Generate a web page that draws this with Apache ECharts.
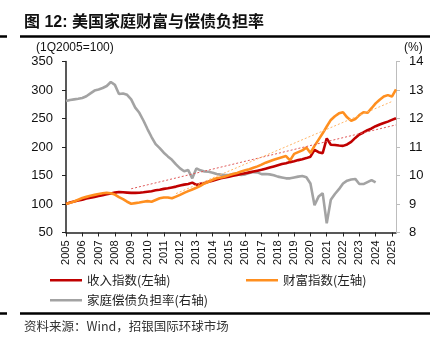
<!DOCTYPE html>
<html>
<head>
<meta charset="utf-8">
<script src="https://cdn.jsdelivr.net/npm/echarts@6/dist/echarts.min.js"></script>
<style>
  html, body { margin: 0; padding: 0; background: #fff; }
  #chart { width: 443px; height: 348px; }
</style>
</head>
<body>
<div id="chart"></div>
<script>
// Quarterly series, 2005Q1 .. 2025Q2
const firstYear = 2005;
const lastYear = 2025;
const lastQuarterOfLastYear = 2;

// Disposable income index (1Q2005 = 100), left axis
const incomeIndex = [
  100, 102.5, 104.5, 106, 107.5, 109.5, 111, 112.5, 114, 115.5,
  117, 118.5, 120, 121, 120.5, 120, 119.5, 119.5, 119.8, 120.5,
  121.5, 122.5, 124, 125, 126.5, 127.5, 129, 130.5, 132.5, 134,
  135, 137.5, 133.5, 135.5, 137, 139, 141, 143, 145, 146.5,
  148, 149.5, 151, 152.5, 154, 155.5, 157, 158.5, 160, 162,
  164, 166, 168, 170, 171.5, 173.5, 175, 177, 178.5, 180.5,
  183, 195, 191, 189, 215, 204, 203.5, 202.5, 202, 204.5,
  209, 216, 222, 225.5, 229.5, 232.5, 236.5, 239.5, 242, 244.5,
  247.5, 250.5
];

// Household net worth index (1Q2005 = 100), left axis
const wealthIndex = [
  100, 102, 104.5, 107.5, 110.5, 112.5, 114.5, 116, 117.5, 118.8,
  119.8, 119, 116.5, 112, 108.5, 104, 100.5, 101.5, 102.5, 104,
  105, 104, 107, 110, 111.5, 111.5, 110, 113, 116, 119.5,
  122.5, 125.5, 128.5, 132, 136, 139, 142.5, 145, 146.5, 148,
  150.5, 152.5, 154.5, 157, 159, 161, 163.5, 166, 169, 172.5,
  175, 177.5, 180, 182, 184, 176.5, 188, 191, 194, 199,
  189.5, 202, 213, 224, 236, 247.5, 254, 259, 261, 252,
  246, 249, 256, 261, 260, 268, 276.5, 283, 288.5, 291,
  288.5, 301
];

// Household debt service ratio (%), right axis, through 2024Q1
const debtServiceRatio = [
  12.61, 12.65, 12.67, 12.69, 12.72, 12.78, 12.88, 12.98, 13.02, 13.07,
  13.14, 13.28, 13.18, 12.86, 12.88, 12.83, 12.67, 12.38, 12.20, 11.93,
  11.63, 11.35, 11.10, 10.96, 10.80, 10.67, 10.55, 10.39, 10.25, 10.15,
  10.19, 9.90, 10.25, 10.18, 10.14, 10.13, 10.10, 10.05, 10.03, 10.02,
  10.02, 10.05, 10.06, 10.02, 10.04, 10.09, 10.12, 10.11, 10.05, 10.05,
  10.04, 10.01, 9.96, 9.93, 9.90, 9.90, 9.93, 9.96, 9.98, 9.94,
  9.72, 8.96, 9.26, 9.38, 8.32, 9.15, 9.35, 9.52, 9.72, 9.82,
  9.86, 9.88, 9.70, 9.70, 9.77, 9.84, 9.76
];

// Linear trend lines (start / end points)
const incomeTrend = [['2009Q1', 126.7], ['2025Q2', 238.8]];
const wealthTrend = [['2011Q4', 118.2], ['2025Q1', 279.8]];

// Axis scales
const leftAxisTicks = [50, 100, 150, 200, 250, 300, 350];
const rightAxisTicks = [8, 9, 10, 11, 12, 13, 14];

const seriesNames = ['收入指数(左轴)', '财富指数(左轴)', '家庭偿债负担率(右轴)'];
const colors = { income: '#C00000', wealth: '#FF8F1F', dsr: '#A3A3A3' };

// Quarter labels for the category axis
const quarters = [];
for (let y = firstYear; y <= lastYear; y++) {
  for (let q = 1; q <= 4; q++) {
    if (y === lastYear && q > lastQuarterOfLastYear) break;
    quarters.push(y + 'Q' + q);
  }
}

const latin = "'Liberation Sans', Arial, 'Noto Sans CJK SC', sans-serif";
const cjk = "'Noto Sans CJK SC', 'Liberation Sans', sans-serif";

const chart = echarts.init(document.getElementById('chart'), null, { renderer: 'canvas' });

const legendBase = {
  padding: 0,
  icon: 'rect',
  itemWidth: 32,
  itemHeight: 2.5,
  itemGap: 0,
  selectedMode: false,
  textStyle: { fontFamily: cjk, fontSize: 12.5, color: '#222', padding: [0, 0, 0, 0] }
};

chart.setOption({
  animation: false,
  backgroundColor: '#fff',
  grid: { left: 66, right: 47, top: 61.5, bottom: 115.5 },
  legend: [
    Object.assign({}, legendBase, { data: [seriesNames[0]], left: 50, top: 274 }),
    Object.assign({}, legendBase, { data: [seriesNames[1]], left: 246, top: 274 }),
    Object.assign({}, legendBase, { data: [seriesNames[2]], left: 50, top: 294 })
  ],
  xAxis: {
    type: 'category',
    data: quarters,
    boundaryGap: false,
    axisLine: { lineStyle: { color: '#222', width: 1.5 } },
    axisTick: { interval: 3, length: 4, lineStyle: { color: '#222', width: 1 } },
    axisLabel: {
      interval: 3,
      rotate: 90,
      margin: 8,
      fontSize: 11,
      fontFamily: "'Liberation Sans Narrow', 'Liberation Sans', Arial, sans-serif",
      color: '#111',
      formatter: v => v.slice(0, 4)
    },
    splitLine: { show: false }
  },
  yAxis: [
    {
      type: 'value',
      min: leftAxisTicks[0],
      max: leftAxisTicks[leftAxisTicks.length - 1],
      interval: leftAxisTicks[1] - leftAxisTicks[0],
      axisLine: { show: true, lineStyle: { color: '#222', width: 1.5 } },
      axisTick: { show: true, length: 4, lineStyle: { color: '#222' } },
      axisLabel: { margin: 13, fontSize: 13, fontFamily: latin, color: '#111' },
      splitLine: { show: false }
    },
    {
      type: 'value',
      position: 'right',
      min: rightAxisTicks[0],
      max: rightAxisTicks[rightAxisTicks.length - 1],
      interval: rightAxisTicks[1] - rightAxisTicks[0],
      axisLine: { show: true, lineStyle: { color: '#BDBDBD', width: 1 } },
      axisTick: { show: true, length: 4, lineStyle: { color: '#BDBDBD' } },
      axisLabel: { margin: 13, fontSize: 13, fontFamily: latin, color: '#111' },
      splitLine: { show: false }
    }
  ],
  series: [
    {
      name: seriesNames[0], type: 'line', yAxisIndex: 0, data: incomeIndex,
      symbol: 'none', lineStyle: { color: colors.income, width: 2.6 },
      itemStyle: { color: colors.income }, z: 3
    },
    {
      name: seriesNames[1], type: 'line', yAxisIndex: 0, data: wealthIndex,
      symbol: 'none', lineStyle: { color: colors.wealth, width: 2.6 },
      itemStyle: { color: colors.wealth }, z: 3
    },
    {
      name: seriesNames[2], type: 'line', yAxisIndex: 1, data: debtServiceRatio,
      symbol: 'none', lineStyle: { color: colors.dsr, width: 2.6 },
      itemStyle: { color: colors.dsr }, z: 2
    },
    {
      name: 'incomeTrend', type: 'line', yAxisIndex: 0, data: incomeTrend,
      symbol: 'none', silent: true,
      lineStyle: { color: '#E05A5A', width: 1, type: [2, 2] }, z: 4
    },
    {
      name: 'wealthTrend', type: 'line', yAxisIndex: 0, data: wealthTrend,
      symbol: 'none', silent: true,
      lineStyle: { color: '#FFB567', width: 1, type: [2, 2] }, z: 4
    }
  ],
  graphic: [
    {
      type: 'text', x: 24, y: 23,
      style: {
        text: '图 12: 美国家庭财富与偿债负担率',
        font: "bold 16px 'Liberation Sans', 'Noto Sans CJK SC', sans-serif",
        fill: '#111', verticalAlign: 'middle'
      }
    },
    { type: 'line', shape: { x1: 20, y1: 36.5, x2: 430, y2: 36.5 }, style: { stroke: '#000', lineWidth: 2.5 } },
    { type: 'line', shape: { x1: 0, y1: 36.5, x2: 7, y2: 36.5 }, style: { stroke: '#000', lineWidth: 2.5 } },
    {
      type: 'text', x: 36, y: 48,
      style: { text: '(1Q2005=100)', font: "12px 'Liberation Sans', Arial, sans-serif", fill: '#111', verticalAlign: 'middle' }
    },
    {
      type: 'text', x: 404, y: 48,
      style: { text: '(%)', font: "12px 'Liberation Sans', Arial, sans-serif", fill: '#111', verticalAlign: 'middle' }
    },
    { type: 'line', shape: { x1: 20, y1: 313.5, x2: 430, y2: 313.5 }, style: { stroke: '#000', lineWidth: 2.5 } },
    { type: 'line', shape: { x1: 0, y1: 313.5, x2: 7, y2: 313.5 }, style: { stroke: '#000', lineWidth: 2.5 } },
    {
      type: 'text', x: 24, y: 326,
      style: {
        text: '资料来源：Wind，招银国际环球市场',
        font: "12.5px 'Noto Sans CJK SC', 'Liberation Sans', sans-serif",
        fill: '#333', verticalAlign: 'middle'
      }
    }
  ]
});
</script>
</body>
</html>
